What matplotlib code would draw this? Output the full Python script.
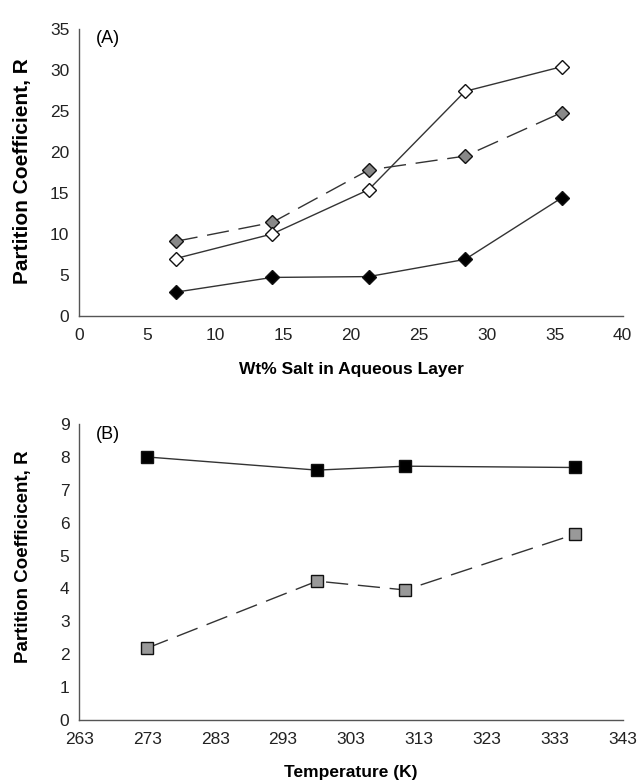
import matplotlib
matplotlib.use("Agg")
import matplotlib.pyplot as plt

plt.rcParams["font.family"] = ["Liberation Sans", "DejaVu Sans"]

# panel A: wt% salt vs partition coefficient
salt_wt = [7.1, 14.2, 21.3, 28.4, 35.5]
r_open = [7.0, 10.0, 15.4, 27.4, 30.4]
r_gray = [9.1, 11.4, 17.8, 19.5, 24.8]
r_black = [2.9, 4.7, 4.8, 6.9, 14.4]
salt_ticks = [0, 5, 10, 15, 20, 25, 30, 35, 40]
r_ticks_a = [0, 5, 10, 15, 20, 25, 30, 35]

# panel B: temperature vs partition coefficient
temp_k = [273, 298, 311, 336]
r_sq_black = [8.0, 7.6, 7.72, 7.68]
r_sq_gray = [2.18, 4.22, 3.95, 5.65]
temp_ticks = [263, 273, 283, 293, 303, 313, 323, 333, 343]
r_ticks_b = list(range(10))

fig = plt.figure(figsize=(6.44, 7.84), dpi=100)
ax_a = fig.add_axes([0.123, 0.597, 0.844, 0.366])
ax_b = fig.add_axes([0.123, 0.082, 0.844, 0.377])

line_kw = dict(color="#333333", lw=1.0, markeredgecolor="#111111", markeredgewidth=1.0)
ax_a.plot(salt_wt, r_gray, marker="D", ms=7.5, markerfacecolor="#888888",
          dashes=(16, 7), **line_kw)
ax_a.plot(salt_wt, r_open, marker="D", ms=7.5, markerfacecolor="white", **line_kw)
ax_a.plot(salt_wt, r_black, marker="D", ms=7.5, markerfacecolor="black", **line_kw)

ax_b.plot(temp_k, r_sq_black, marker="s", ms=8, markerfacecolor="black", **line_kw)
ax_b.plot(temp_k, r_sq_gray, marker="s", ms=8, markerfacecolor="#999999",
          dashes=(16, 7), **line_kw)

# the original figure spells panel B's axis title this way
panels = [
    (ax_a, salt_ticks, r_ticks_a, "Wt% Salt in Aqueous Layer", "(A)",
     "Partition Coefficient, R", 15, 0.505),
    (ax_b, temp_ticks, r_ticks_b, "Temperature (K)", "(B)",
     "Partition Coefficicent, R", 13.5, 0.55),
]
for ax, xt, yt, xlab, tag, ylab, ysize, ymid in panels:
    ax.set_xlim(xt[0], xt[-1])
    ax.set_ylim(yt[0], yt[-1])
    ax.set_xticks(xt)
    ax.set_yticks(yt)
    for s in ["top", "right"]:
        ax.spines[s].set_visible(False)
    for s in ["left", "bottom"]:
        ax.spines[s].set_color("#555555")
        ax.spines[s].set_linewidth(1.0)
    ax.tick_params(length=0, labelsize=12.5, colors="#222222")
    ax.tick_params(axis="x", pad=9)
    ax.tick_params(axis="y", pad=7)
    ax.set_xlabel(xlab, fontsize=12.5, fontweight="bold", labelpad=13)
    ax.set_ylabel(ylab, fontsize=ysize, fontweight="bold")
    ax.yaxis.set_label_coords(-0.086, ymid)
    ax.text(0.03, 0.995, tag, transform=ax.transAxes, fontsize=13,
            va="top", ha="left")
    for ln in ax.lines:
        ln.set_clip_on(False)

fig.savefig("out.png", dpi=100)
